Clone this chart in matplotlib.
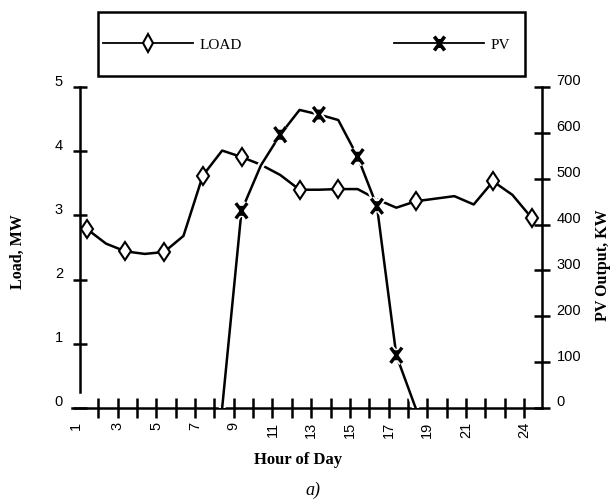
import matplotlib
matplotlib.use("Agg")
import matplotlib.pyplot as plt
from matplotlib.lines import Line2D
from matplotlib.patches import Rectangle
from matplotlib.path import Path
from matplotlib.transforms import ScaledTranslation
import matplotlib.patheffects as pe

# data
hours = list(range(1, 25))
load_mw = [2.79, 2.56, 2.44, 2.40, 2.43, 2.68, 3.62, 4.01, 3.91, 3.79, 3.63, 3.40,
           3.40, 3.41, 3.41, 3.25, 3.12, 3.22, 3.26, 3.30, 3.17, 3.53, 3.32, 2.96]
load_marker_hours = [1, 3, 5, 7, 9, 12, 14, 18, 22, 24]

pv_hours = [8, 9, 10, 11, 12, 13, 14, 15, 16, 17, 18]
pv_kw = [0, 430, 529, 596, 650, 640, 628, 548, 440, 115, 0]
pv_marker_hours = [9, 11, 13, 15, 16, 17]

tick_hours = list(range(2, 25))
label_hours = [1, 3, 5, 7, 9, 11, 13, 15, 17, 19, 21, 24]

SANS = "Liberation Sans"
SERIF = "Liberation Serif"
LW = 1.8

# X with a vertical bar through it, like the scanned marker
pv_marker = Path([(-0.75, -1), (0.75, 1), (-0.75, 1), (0.75, -1), (0, -0.65), (0, 0.65)],
                 [Path.MOVETO, Path.LINETO, Path.MOVETO, Path.LINETO, Path.MOVETO, Path.LINETO])

fig = plt.figure(figsize=(6.1, 5.02), dpi=100)
ax = fig.add_axes([72 / 610, 1 - 409 / 502, 470 / 610, 321 / 502])
ax2 = ax.twinx()

load_mark_idx = [hours.index(h) for h in load_marker_hours]
pv_mark_idx = [pv_hours.index(h) for h in pv_marker_hours]

ax.plot(hours, load_mw, color="black", lw=LW, marker="d", markevery=load_mark_idx,
        markersize=9.5, markerfacecolor="white", markeredgewidth=1.5, zorder=2)
ax.set_zorder(ax2.get_zorder() + 1)
ax.patch.set_visible(False)

# pv drawn on the load axes so its white halo can cut the load line
pv_scaled = [v / 700 * 5 for v in pv_kw]
ax.plot(pv_hours, pv_scaled, color="black", lw=LW, marker=pv_marker, markevery=pv_mark_idx,
        markersize=11, markeredgewidth=2.4, zorder=3,
        path_effects=[pe.Stroke(linewidth=5, foreground="white"), pe.Normal()])

ax.set_xlim(0.24, 24.53)
ax.set_ylim(0, 5)
ax2.set_ylim(0, 700)

for s in ["top", "right"]:
    ax.spines[s].set_visible(False)
for s in ["top", "left", "bottom"]:
    ax2.spines[s].set_visible(False)
ax.spines["left"].set_position(("data", 0.65))
ax.spines["left"].set_bounds(0.25, 5)
ax.spines["left"].set_linewidth(LW)
ax.spines["bottom"].set_linewidth(LW)
ax2.spines["right"].set_linewidth(LW)

ax.set_yticks([0, 1, 2, 3, 4, 5])
ax.tick_params(axis="y", direction="inout", length=9.5, width=LW, pad=7.5,
               labelsize=10.5, labelfontfamily=SANS)
ax2.set_yticks([0, 100, 200, 300, 400, 500, 600, 700])
ax2.tick_params(axis="y", direction="inout", length=11, width=LW, pad=5,
                labelsize=10.5, labelfontfamily=SANS)

# tick marks sit between the hourly points; labels go on those marks
ax.set_xticks([h - 0.4 for h in tick_hours])
ax.set_xticklabels([str(h) if h in label_hours else "" for h in tick_hours],
                   rotation=90, fontsize=10.5, family=SANS)
ax.set_xticks([1 - 0.55], labels=["1"], minor=True, rotation=90, fontsize=10.5, family=SANS)
ax.tick_params(axis="x", which="major", direction="inout", length=14, width=LW, pad=2)
ax.tick_params(axis="x", which="minor", length=0, pad=9)

# the scan prints y labels a little above their ticks
up = ScaledTranslation(0, 0.08, fig.dpi_scale_trans)
for lab in ax.get_yticklabels() + ax2.get_yticklabels():
    lab.set_transform(lab.get_transform() + up)

fig.text(298 / 610, 1 - 460 / 502, "Hour of Day", ha="center", va="center",
         family=SERIF, fontweight="bold", fontsize=12)
fig.text(18 / 610, 1 - 252 / 502, "Load, MW", ha="center", va="center", rotation=90,
         family=SERIF, fontweight="bold", fontsize=11.5)
fig.text(603 / 610, 1 - 265 / 502, "PV Output, KW", ha="center", va="center", rotation=90,
         family=SERIF, fontweight="bold", fontsize=11.5)
fig.text(313 / 610, 1 - 490 / 502, "a)", ha="center", va="center",
         family=SERIF, style="italic", fontsize=13)

# legend box across the top
fig.add_artist(Rectangle((98 / 610, 1 - 77 / 502), 427 / 610, 64 / 502,
                         transform=fig.transFigure, fill=False, lw=LW, color="black"))
handles = [
    Line2D([], [], color="black", lw=1.3, marker="d", markersize=9,
           markerfacecolor="white", markeredgewidth=1.5),
    Line2D([], [], color="black", lw=1.3, marker=pv_marker, markersize=10,
           markeredgewidth=2.6),
]
fig.legend(handles, ["LOAD", "PV"], loc="center", mode="expand", ncol=2,
           bbox_to_anchor=(103 / 610, 1 - 75 / 502, 407 / 610, 60 / 502),
           bbox_transform=fig.transFigure, frameon=False, borderpad=0, borderaxespad=0,
           handlelength=5.9, handletextpad=0.4, numpoints=1,
           prop={"family": SERIF, "size": 11})

fig.savefig("out.png", dpi=100)
